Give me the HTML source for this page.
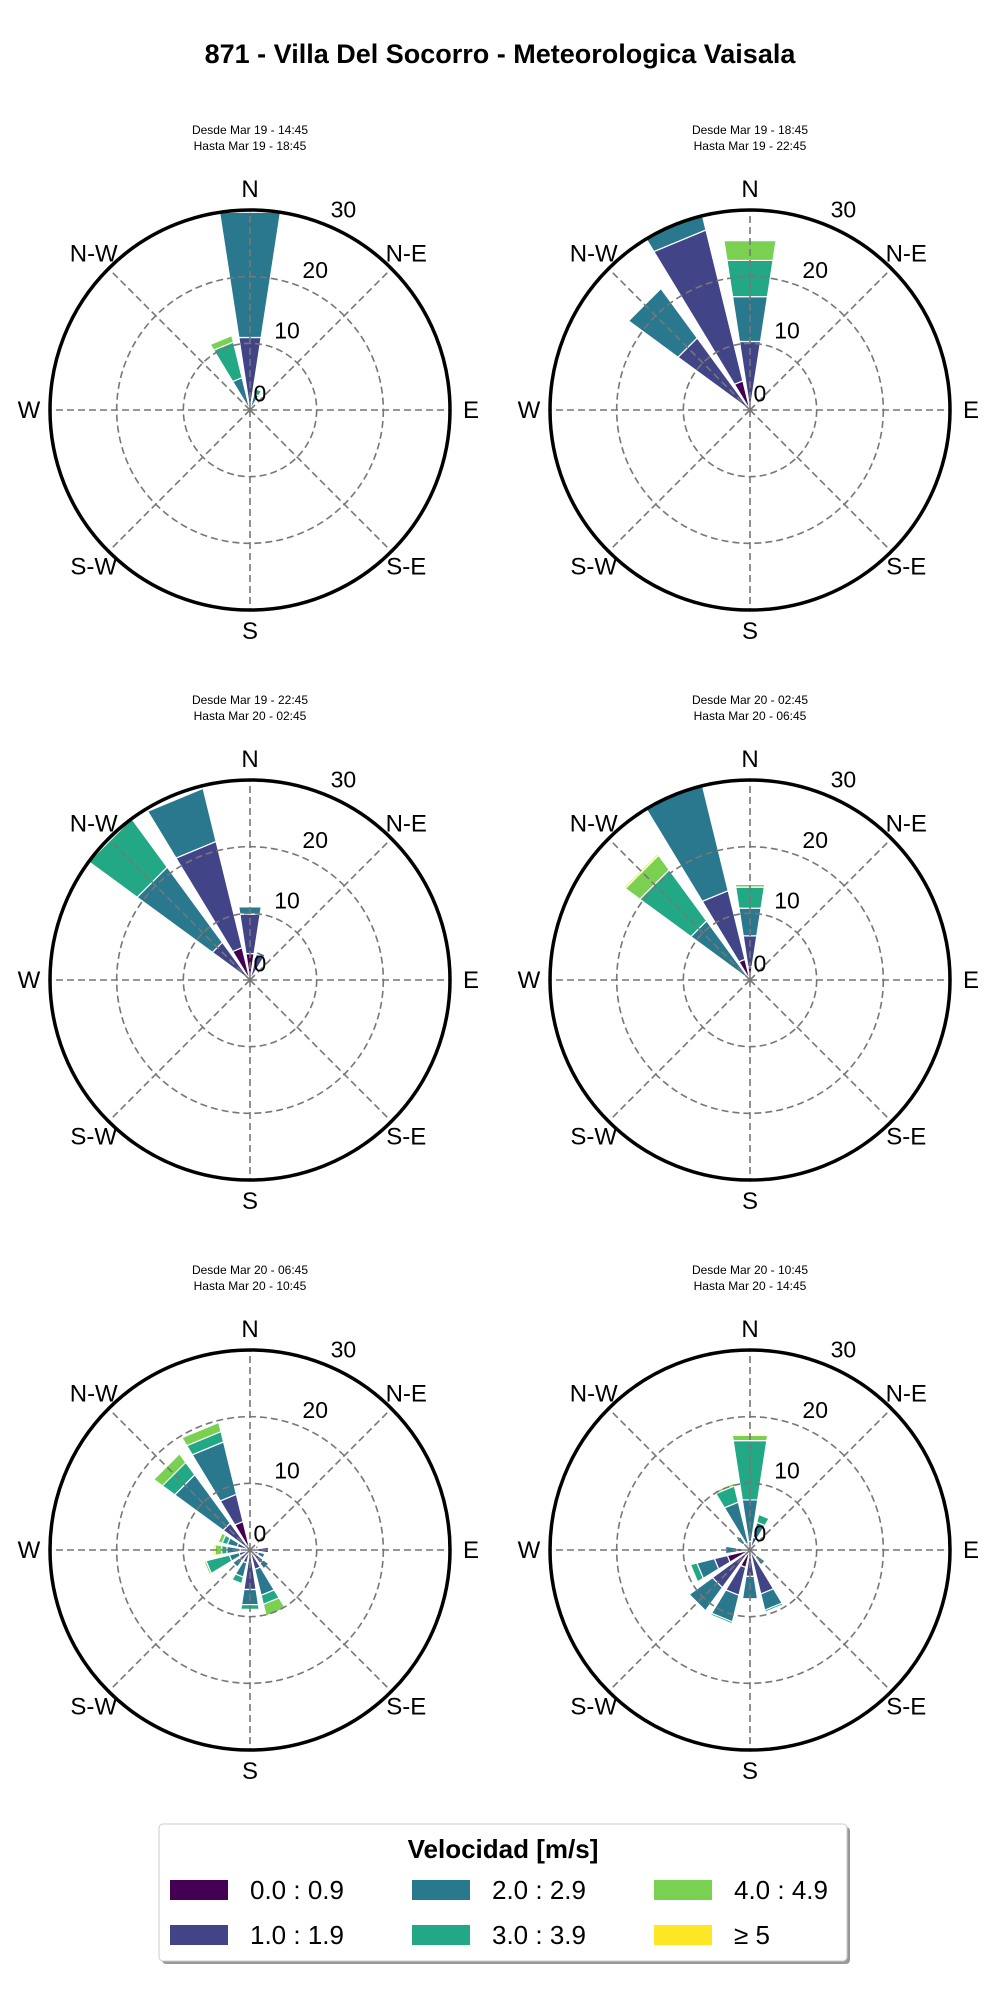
<!DOCTYPE html>
<html><head><meta charset="utf-8"><style>
html,body{margin:0;padding:0;background:#fff;}
svg text{font-family:"Liberation Sans",sans-serif;}
</style></head><body>
<svg id="root" width="1000" height="2000" viewBox="0 0 1000 2000" xmlns="http://www.w3.org/2000/svg">
<text x="500" y="63" text-anchor="middle" font-size="27" font-weight="bold">871 - Villa Del Socorro - Meteorologica Vaisala</text>
<g id="plots"></g>
<g>
<rect x="159" y="1824" width="688" height="137" rx="4" fill="#999" transform="translate(3,3)"/>
<rect x="159" y="1824" width="688" height="137" rx="4" fill="#fff" stroke="#ccc"/>
<text x="503" y="1858" text-anchor="middle" font-size="26" font-weight="bold">Velocidad [m/s]</text>
<g id="legend-items"></g>
</g>
</svg>
<script>
const colors = ['#440154','#414487','#2a788e','#22a884','#7ad151','#fde725'];
const binLabels = ['0.0 : 0.9','1.0 : 1.9','2.0 : 2.9','3.0 : 3.9','4.0 : 4.9','\u2265  5'];
const dirs = ['N','NNE','NE','ENE','E','ESE','SE','SSE','S','SSW','SW','WSW','W','WNW','NW','NNW'];
const rTicks = [0,10,20,30];
const compassLabels = ['N','N-E','E','S-E','S','S-W','W','N-W'];
const subtitles = [
 ['Desde Mar 19 - 14:45','Hasta Mar 19 - 18:45'],
 ['Desde Mar 19 - 18:45','Hasta Mar 19 - 22:45'],
 ['Desde Mar 19 - 22:45','Hasta Mar 20 - 02:45'],
 ['Desde Mar 20 - 02:45','Hasta Mar 20 - 06:45'],
 ['Desde Mar 20 - 06:45','Hasta Mar 20 - 10:45'],
 ['Desde Mar 20 - 10:45','Hasta Mar 20 - 14:45']
];
const plot1 = {N:[0,11,19,0,0,0], NNE:[0,0,2.5,0.8,0,0], NNW:[0,0,5,5.5,1,0]};
const plot2 = {N:[0,10.4,6.8,5.5,3,0], NNW:[4.5,23.3,3,0,0,0], NW:[0,13.4,9.2,0,0,0]};
const plot3 = {N:[4,6,1.1,0,0,0], NNE:[0,4,0.4,0,0,0], NNW:[5,16.4,8.2,0,0,0], NW:[0,7,14,9,0,0]};
const plot4 = {N:[2,4.7,4.2,3.2,0.4,0], NNW:[3.2,10.6,16.6,0,0,0], NW:[0.5,0.5,10,9.5,2.7,0.3]};
const plot5 = {NNE:[0.3,0.5,0,0,0,0], NE:[0.3,0.5,0,0,0,0], ENE:[0.3,0.6,0.4,0,0,0], E:[0.5,2.3,0,0,0,0],
 ESE:[0.3,1,1,0,0,0], SE:[0.5,2,1,0,0,0], SSE:[0.5,2.5,4,1.4,1.8,0], S:[0.5,5.5,2.3,0.7,0,0],
 SSW:[0.5,1.5,2.2,1,0,0], SW:[0.5,1.5,1.2,0,0,0], WSW:[0.5,1.2,1.5,3.6,0.3,0], W:[0.5,1,2,0.8,1,0.3],
 WNW:[0.5,1.5,1.5,0.8,0.6,0], NW:[1,4,9,2.3,1.6,0], NNW:[4.4,4.2,8.1,1.6,1.4,0]};
const plot6 = {N:[0.3,1,6.3,9,0.8,0.2], NNE:[0.3,1.7,2.3,1.2,0,0], NE:[0.2,0.5,0,0,0,0], ENE:[0.2,0.3,0,0,0,0],
 E:[0.2,0.3,0,0,0,0], ESE:[0.2,0.5,0,0,0,0], SE:[0.3,1,1.5,0,0,0], SSE:[0.5,6.3,2.5,0.3,0,0],
 S:[1,3,3.4,0,0,0], SSW:[2.7,4.3,4.1,0.3,0,0], SW:[1,6,4.3,0,0,0], WSW:[3.5,2,2.7,1,0,0],
 W:[0.5,1.5,1.7,0,0,0], WNW:[0.3,0.5,0,0,0,0], NW:[0.3,1,1.2,0,0,0], NNW:[0.3,0.7,6.4,2.5,0.4,0.2]};
const plotData = [plot1,plot2,plot3,plot4,plot5,plot6];

const NS='http://www.w3.org/2000/svg';
const RMAX=30, RPX=200, BARW=17.5;
function mk(tag,attrs,parent){const e=document.createElementNS(NS,tag);for(const k in attrs)e.setAttribute(k,attrs[k]);if(parent)parent.appendChild(e);return e;}
function rScale(v){return v/RMAX*RPX;}
function pt(cx,cy,deg,r){const a=deg*Math.PI/180;return [cx+r*Math.sin(a),cy-r*Math.cos(a)];}

const plotsG=document.getElementById('plots');
plotData.forEach((data,i)=>{
  const cx = i%2===0?250:750;
  const cy = 410 + Math.floor(i/2)*570;
  const g=mk('g',{},plotsG);
  
  
  const cid='clip'+i;
  const cp=mk('clipPath',{id:cid},g); mk('circle',{cx:cx,cy:cy,r:RPX},cp);
  subtitles[i].forEach((s,j)=>{
    const t=mk('text',{x:cx,y:cy-276+j*16,'text-anchor':'middle','font-size':12},g);
    t.textContent=s;
    
    
  });
  const bars=mk('g',{'clip-path':'url(#'+cid+')'},g);
  dirs.forEach((d,k)=>{
    const vals=data[d]; if(!vals) return;
    const ang=k*22.5;
    let base=0;
    vals.forEach((v,b)=>{
      if(v<=0) return;
      const r0=rScale(base), r1=rScale(base+v);
      const a=pt(cx,cy,ang-BARW/2,r0), bb=pt(cx,cy,ang+BARW/2,r0), c=pt(cx,cy,ang+BARW/2,r1), e=pt(cx,cy,ang-BARW/2,r1);
      const p=mk('polygon',{points:[a,bb,c,e].map(q=>q.join(',')).join(' '),fill:colors[b],stroke:'#fff','stroke-width':1.2},bars);
      
      
      base+=v;
    });
  });
  const grid=mk('g',{stroke:'#777','stroke-width':1.6,'stroke-dasharray':'7,4',fill:'none'},g);
  
  
  [10,20].forEach(v=>mk('circle',{cx:cx,cy:cy,r:rScale(v)},grid));
  for(let k=0;k<8;k++){const q=pt(cx,cy,k*45,RPX);mk('line',{x1:cx,y1:cy,x2:q[0],y2:q[1]},grid);}
  const oc=mk('circle',{cx:cx,cy:cy,r:RPX,fill:'none',stroke:'#000','stroke-width':3.5},g);
  
  
  compassLabels.forEach((l,k)=>{
    const q=pt(cx,cy,k*45,221);
    const t=mk('text',{x:q[0],y:q[1]+8,'text-anchor':'middle','font-size':24},g);
    t.textContent=l;
    
    
  });
  rTicks.forEach(v=>{
    const rr=rScale(v)+ (v===0?18:21);
    const a=25*Math.PI/180;
    const x=cx+rr*Math.cos(Math.PI/2-a- (v===0?0.15:0)), y=cy-rr*Math.sin(Math.PI/2-a);
    const t=mk('text',{x:x,y:y+8,'text-anchor':'middle','font-size':23},g);
    t.textContent=String(v);
    
    
  });
});

const li=document.getElementById('legend-items');
binLabels.forEach((l,b)=>{
  const col=Math.floor(b/2), row=b%2;
  const x=170+col*242, y=1880+row*45;
  const r=mk('rect',{x:x,y:y,width:58,height:20,fill:colors[b]},li);
  
  
  const t=mk('text',{x:x+80,y:y+19,'font-size':26},li);
  t.textContent=l;
  
  
});
</script>
</body></html>
